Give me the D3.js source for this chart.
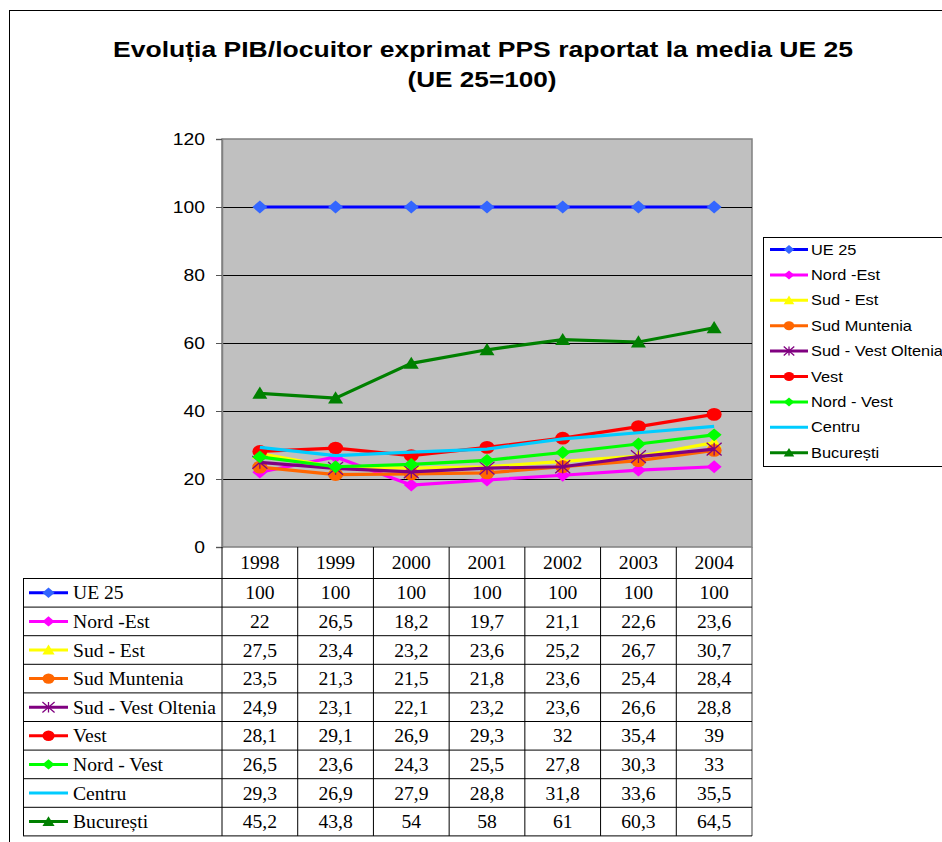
<!DOCTYPE html>
<html>
<head>
	<meta charset="utf-8">
	<style>
		body { margin: 0; background: #fff; }
		svg { display: block; }
	</style>
</head>
<body>

	<div id="chart"></div>

	<script src="https://cdnjs.cloudflare.com/ajax/libs/d3/7.8.5/d3.min.js"></script>

	<script>
		const years = ['1998', '1999', '2000', '2001', '2002', '2003', '2004'];

		const seriesNames = ['UE 25', 'Nord -Est', 'Sud - Est', 'Sud Muntenia', 'Sud - Vest Oltenia', 'Vest', 'Nord - Vest', 'Centru', 'București'];

		const ue25 = [100, 100, 100, 100, 100, 100, 100];
		const nordEst = [22, 26.5, 18.2, 19.7, 21.1, 22.6, 23.6];
		const sudEst = [27.5, 23.4, 23.2, 23.6, 25.2, 26.7, 30.7];
		const sudMuntenia = [23.5, 21.3, 21.5, 21.8, 23.6, 25.4, 28.4];
		const sudVestOltenia = [24.9, 23.1, 22.1, 23.2, 23.6, 26.6, 28.8];
		const vest = [28.1, 29.1, 26.9, 29.3, 32, 35.4, 39];
		const nordVest = [26.5, 23.6, 24.3, 25.5, 27.8, 30.3, 33];
		const centru = [29.3, 26.9, 27.9, 28.8, 31.8, 33.6, 35.5];
		const bucuresti = [45.2, 43.8, 54, 58, 61, 60.3, 64.5];

		const yTicks = [0, 20, 40, 60, 80, 100, 120];

		const valueRows = [ue25, nordEst, sudEst, sudMuntenia, sudVestOltenia, vest, nordVest, centru, bucuresti];

		// line colour, marker colour, marker type
		const styles = [
			{ line: '#0000ff', mark: '#3366ff', type: 'diamond' },
			{ line: '#ff00ff', mark: '#ff00ff', type: 'diamond' },
			{ line: '#ffff00', mark: '#ffff00', type: 'triangle' },
			{ line: '#ff6600', mark: '#ff6600', type: 'circle' },
			{ line: '#800080', mark: '#800080', type: 'star' },
			{ line: '#ff0000', mark: '#ff0000', type: 'circle' },
			{ line: '#00ff00', mark: '#00ff00', type: 'diamond' },
			{ line: '#00ccff', mark: '#00ccff', type: 'none' },
			{ line: '#008000', mark: '#008000', type: 'triangle' }
		];

		const series = seriesNames.map((name, i) => ({
			name,
			style: styles[i],
			values: valueRows[i].map((v, j) => ({ year: years[j], value: v }))
		}));

		const W = 942, H = 842;
		const plot = { left: 222, right: 752, top: 139, bottom: 547 };
		const table = { left: 23, top: 578.5, rowH: 28.6 };
		// the original picture is a bit wider than tall, text included
		const SX = 1.17;

		const svg = d3.select('#chart').append('svg')
			.attr('width', W)
			.attr('height', H)
			.style('font-family', 'Liberation Sans, Arial, sans-serif');

		// text that is drawn stretched sideways around its anchor point
		const wideText = (parent, x, y, k, str) => parent.append('text')
			.attr('transform', `translate(${x},${y}) scale(${k},1)`)
			.text(str);

		// outer frame
		svg.append('rect')
			.attr('x', 9.5).attr('y', 10.5)
			.attr('width', 960).attr('height', 850)
			.attr('fill', 'none').attr('stroke', '#000').attr('stroke-width', 1);

		// title
		svg.append('text')
			.attr('x', 483).attr('y', 57)
			.attr('text-anchor', 'middle')
			.attr('font-weight', 'bold').attr('font-size', 21.5)
			.attr('textLength', 740).attr('lengthAdjust', 'spacingAndGlyphs')
			.text('Evoluția PIB/locuitor exprimat PPS raportat la media UE 25');
		svg.append('text')
			.attr('x', 482).attr('y', 87)
			.attr('text-anchor', 'middle')
			.attr('font-weight', 'bold').attr('font-size', 21.5)
			.attr('textLength', 149).attr('lengthAdjust', 'spacingAndGlyphs')
			.text('(UE 25=100)');

		const x = d3.scaleBand().domain(years).range([plot.left, plot.right]);
		const y = d3.scaleLinear().domain([0, 120]).range([plot.bottom, plot.top]);
		const cx = d => x(d) + x.bandwidth() / 2;

		// plot area
		svg.append('rect')
			.attr('x', plot.left).attr('y', plot.top)
			.attr('width', plot.right - plot.left).attr('height', plot.bottom - plot.top)
			.attr('fill', '#c0c0c0').attr('stroke', '#808080').attr('stroke-width', 1.5);

		// gridlines
		svg.append('g').selectAll('line')
			.data(yTicks.filter(t => t > 0 && t < 120))
			.join('line')
			.attr('x1', plot.left).attr('x2', plot.right)
			.attr('y1', d => Math.round(y(d)) + 0.5).attr('y2', d => Math.round(y(d)) + 0.5)
			.attr('stroke', '#000').attr('stroke-width', 1);

		// y axis
		const yAxis = d3.axisLeft(y).tickValues(yTicks).tickSize(6).tickPadding(11);
		const gy = svg.append('g')
			.attr('transform', `translate(${plot.left},0)`)
			.call(yAxis);
		gy.select('.domain').attr('stroke', '#808080').attr('stroke-width', 1.5);
		gy.selectAll('.tick line').attr('stroke', '#555');
		gy.selectAll('.tick text')
			.attr('font-size', 16.5).attr('fill', '#000')
			.attr('font-family', 'Liberation Sans, Arial, sans-serif')
			.attr('x', -17 / SX)
			.attr('transform', `scale(${SX},1)`);

		// markers
		const drawMarker = (g, st, px, py, s) => {
			const h = s * SX;
			if (st.type === 'diamond') {
				g.append('path')
					.attr('d', `M${px},${py - s}L${px + h},${py}L${px},${py + s}L${px - h},${py}Z`)
					.attr('fill', st.mark);
			} else if (st.type === 'triangle') {
				g.append('path')
					.attr('d', `M${px},${py - s * 1.05}L${px + h},${py + s * 0.85}L${px - h},${py + s * 0.85}Z`)
					.attr('fill', st.mark);
			} else if (st.type === 'circle') {
				g.append('ellipse')
					.attr('cx', px).attr('cy', py).attr('rx', h).attr('ry', s)
					.attr('fill', st.mark);
			} else if (st.type === 'star') {
				g.append('path')
					.attr('d', `M${px - h},${py - s}L${px + h},${py + s}M${px - h},${py + s}L${px + h},${py - s}M${px},${py - s}L${px},${py + s}`)
					.attr('stroke', st.mark).attr('stroke-width', 1.3).attr('fill', 'none');
			}
		};

		const line = d3.line()
			.x(d => cx(d.year))
			.y(d => y(d.value));

		const marks = svg.append('g');
		series.forEach(s => {
			const g = marks.append('g');
			g.append('path')
				.attr('d', line(s.values))
				.attr('fill', 'none')
				.attr('stroke', s.style.line)
				.attr('stroke-width', 3.2);
			s.values.forEach(d => drawMarker(g, s.style, cx(d.year), y(d.value), 6.4));
		});

		// legend
		const legend = svg.append('g').attr('font-size', 14);
		legend.append('rect')
			.attr('x', 763.5).attr('y', 237.5)
			.attr('width', 200).attr('height', 229)
			.attr('fill', '#fff').attr('stroke', '#000').attr('stroke-width', 1);
		series.forEach((s, i) => {
			const ly = 249.5 + i * 25.4;
			const g = legend.append('g');
			g.append('line')
				.attr('x1', 770).attr('x2', 808)
				.attr('y1', ly).attr('y2', ly)
				.attr('stroke', s.style.line).attr('stroke-width', 3);
			drawMarker(g, s.style, 789, ly, 4.5);
			wideText(g, 811, ly + 5, SX, s.name);
		});

		// data table
		const TX = 1.09;
		const tbl = svg.append('g')
			.style('font-family', 'Liberation Serif, Times New Roman, serif')
			.attr('font-size', 18);
		const tableBottom = table.top + table.rowH * series.length;

		// header cells (year labels)
		years.forEach(d => {
			wideText(tbl, cx(d), (plot.bottom + table.top) / 2 + 6.5, TX, d)
				.attr('text-anchor', 'middle');
		});

		// vertical lines between year columns
		tbl.selectAll('line.col')
			.data(years.concat(['end']))
			.join('line')
			.attr('class', 'col')
			.attr('x1', (d, i) => i < years.length ? x(d) : plot.right)
			.attr('x2', (d, i) => i < years.length ? x(d) : plot.right)
			.attr('y1', plot.bottom)
			.attr('y2', tableBottom)
			.attr('stroke', (d, i) => i === years.length ? '#808080' : '#000')
			.attr('stroke-width', (d, i) => i === years.length ? 1.5 : 1);

		// left edge of label column
		tbl.append('line')
			.attr('x1', table.left + 0.5).attr('x2', table.left + 0.5)
			.attr('y1', table.top).attr('y2', tableBottom)
			.attr('stroke', '#000');

		// horizontal row lines
		d3.range(series.length + 1).forEach(i => {
			const ly = table.top + i * table.rowH;
			tbl.append('line')
				.attr('x1', table.left).attr('x2', plot.right)
				.attr('y1', ly).attr('y2', ly)
				.attr('stroke', '#000');
		});

		series.forEach((s, i) => {
			const cy = table.top + table.rowH * (i + 0.5);
			const g = tbl.append('g');
			g.append('line')
				.attr('x1', 29).attr('x2', 68)
				.attr('y1', cy).attr('y2', cy)
				.attr('stroke', s.style.line).attr('stroke-width', 3);
			drawMarker(g, s.style, 48.5, cy, 5.2);
			wideText(g, 73, cy + 6.5, TX, s.name);
			s.values.forEach(d => {
				wideText(g, cx(d.year), cy + 6.5, TX, String(d.value).replace('.', ','))
					.attr('text-anchor', 'middle');
			});
		});
	</script>

</body>
</html>
